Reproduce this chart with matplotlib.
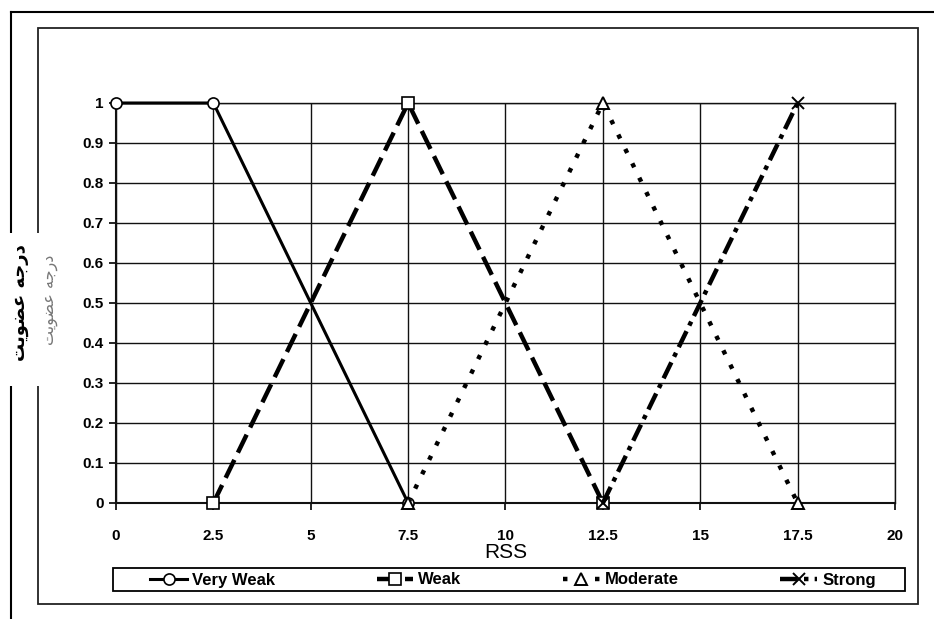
import matplotlib
matplotlib.use('Agg')
import matplotlib.pyplot as plt
from matplotlib.lines import Line2D
from matplotlib.patches import Rectangle

# data
very_weak_x = [0, 2.5, 7.5]
very_weak_y = [1, 1, 0]
weak_x = [2.5, 7.5, 12.5]
weak_y = [0, 1, 0]
moderate_x = [7.5, 12.5, 17.5]
moderate_y = [0, 1, 0]
strong_x = [12.5, 17.5]
strong_y = [0, 1]

x_ticks = [0, 2.5, 5, 7.5, 10, 12.5, 15, 17.5, 20]
x_ticklabels = ['0', '2.5', '5', '7.5', '10', '12.5', '15', '17.5', '20']
y_ticks = [0, 0.1, 0.2, 0.3, 0.4, 0.5, 0.6, 0.7, 0.8, 0.9, 1]
y_ticklabels = ['0', '0.1', '0.2', '0.3', '0.4', '0.5', '0.6', '0.7', '0.8', '0.9', '1']
series_names = ['Very Weak', 'Weak', 'Moderate', 'Strong']

# pre-shaped arabic (presentation forms), visual order
ylabel_fa = '\uFE96\uFEF3\uFEEE\uFEC0\uFECB \uFEEA\uFE9F\uFEAD\uFEA9'

plt.rcParams['font.family'] = ['Liberation Sans', 'DejaVu Sans']

fig = plt.figure(figsize=(9.34, 6.19), dpi=100)
W, H = 934, 619

# frames around the chart
fig.add_artist(Line2D([11 / W, 1], [1 - 12 / H, 1 - 12 / H], color='black', lw=1.5))
fig.add_artist(Line2D([11 / W, 11 / W], [1 - 12 / H, 0], color='black', lw=1.5))
fig.add_artist(Rectangle((38 / W, 1 - 604 / H), (918 - 38) / W, (604 - 28) / H,
                         fill=False, edgecolor='#222222', lw=1.3))
# white patch behind the y label
fig.add_artist(Rectangle((0, 1 - 386 / H), 62 / W, (386 - 233) / H,
                         facecolor='white', edgecolor='none', zorder=5))
# legend box
fig.add_artist(Rectangle((113 / W, 1 - 591 / H), (905 - 113) / W, 23 / H,
                         fill=False, edgecolor='black', lw=1.3, zorder=4))

ax = fig.add_axes([116 / W, 1 - 503 / H, (895 - 116) / W, 400 / H])
ax.set_xlim(0, 20)
ax.set_ylim(0, 1)
ax.set_xticks(x_ticks)
ax.set_xticklabels(x_ticklabels)
ax.set_yticks(y_ticks)
ax.set_yticklabels(y_ticklabels)
ax.grid(True, color='#111111', lw=1.0)
ax.set_axisbelow(True)
for s in ax.spines.values():
    s.set_color('#111111')
    s.set_linewidth(1.0)
ax.spines['left'].set_linewidth(1.5)
ax.spines['bottom'].set_linewidth(1.5)
ax.tick_params(axis='x', length=5, width=1.2, pad=14)
ax.tick_params(axis='y', length=5, width=1.2, pad=4)
for lab in ax.get_xticklabels() + ax.get_yticklabels():
    lab.set_fontweight('bold')
    lab.set_fontsize(11)

ax.plot(very_weak_x, very_weak_y, color='black', lw=2.2, marker='o', ms=8,
        mfc='white', mec='black', mew=1.2, clip_on=False, label=series_names[0], zorder=3)
ax.plot(weak_x, weak_y, color='black', lw=3.2, dashes=(4.5, 1.8), marker='s', ms=8,
        mfc='white', mec='black', mew=1.2, clip_on=False, label=series_names[1], zorder=3)
ax.plot(moderate_x, moderate_y, color='black', lw=3.2, dashes=(1, 2.6), marker='^', ms=8,
        mfc='white', mec='black', mew=1.4, clip_on=False, label=series_names[2], zorder=3)
ax.plot(strong_x, strong_y, color='black', lw=3.2, dashes=(4, 1.4, 1, 1.4), marker='x', ms=8,
        mec='black', mew=1.4, clip_on=False, label=series_names[3], zorder=3)

ax.set_xlabel('RSS', fontsize=15, labelpad=0)

leg = ax.legend(loc='center', ncol=4,
                bbox_to_anchor=((155 + 871) / 2 / W, 1 - 580 / H),
                bbox_transform=fig.transFigure, frameon=False,
                borderpad=0.1, handlelength=2.2, handletextpad=0.3,
                columnspacing=6.1, borderaxespad=0,
                prop={'weight': 'bold', 'size': 12})

fig.text(20 / W, 1 - 303 / H, ylabel_fa, rotation=90, ha='center', va='center',
         fontsize=13, fontweight='bold', family=['DejaVu Sans'], zorder=6)
fig.text(50 / W, 1 - 300 / H, ylabel_fa, rotation=90, ha='center', va='center',
         fontsize=11.5, color='#777777', family=['DejaVu Sans'], zorder=6)

fig.savefig('out.png', dpi=100)
